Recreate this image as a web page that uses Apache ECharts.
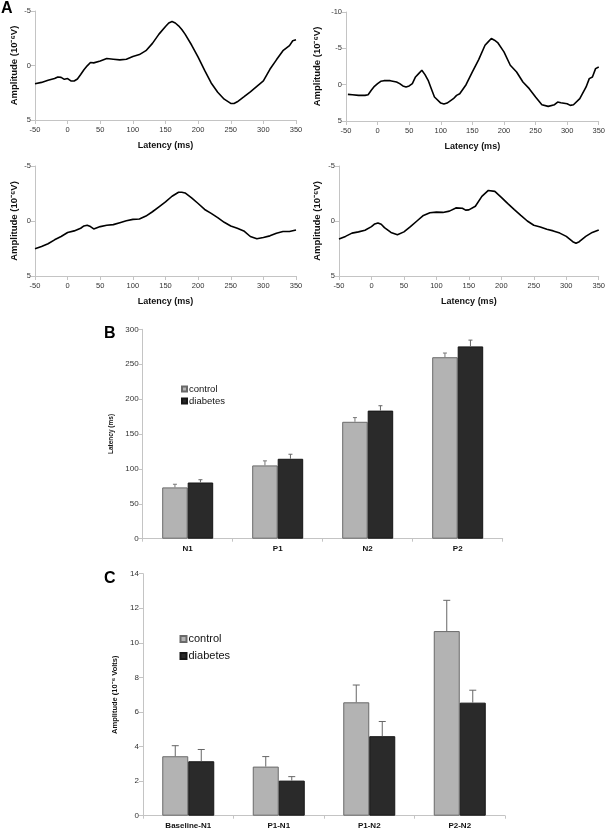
<!DOCTYPE html>
<html>
<head>
<meta charset="utf-8">
<script src="https://cdn.jsdelivr.net/npm/echarts@6/dist/echarts.min.js"></script>
<style>
html,body{margin:0;padding:0;background:#fff;}
#c{width:608px;height:831px;}
</style>
</head>
<body>
<div id="c"></div>
<script>
// ---- Panel A waveforms (latency ms, amplitude 10^-6 V) ----
const lat1 = [-50,-40,-30,-20,-15,-10,-5,0,5,10,15,20,25,30,35,40,50,60,70,80,90,100,110,120,130,140,150,155,160,165,170,175,180,190,200,210,220,230,240,250,255,260,270,280,290,300,310,320,330,340,345,350];
const amp1 = [1.67,1.55,1.36,1.2,1.06,1.09,1.27,1.2,1.42,1.42,1.24,0.82,0.39,0.03,-0.27,-0.24,-0.42,-0.64,-0.58,-0.52,-0.58,-0.82,-1.0,-1.36,-2.03,-2.88,-3.58,-3.9,-4.03,-3.9,-3.64,-3.3,-2.88,-1.88,-0.76,0.45,1.6,2.45,3.09,3.48,3.48,3.33,2.88,2.42,1.91,1.42,0.35,-0.52,-1.36,-1.82,-2.27,-2.36];

const lat2 = [-47,-40,-30,-20,-15,-10,-5,0,5,10,20,30,35,40,45,50,55,60,65,70,75,80,85,90,100,105,110,120,125,130,140,150,160,170,175,180,185,190,200,210,220,230,240,250,260,270,280,285,290,300,305,310,320,330,335,340,345,350];
const amp2 = [1.33,1.38,1.47,1.47,1.38,0.78,0.23,-0.14,-0.46,-0.55,-0.55,-0.37,-0.14,0.18,0.32,0.18,-0.14,-1.06,-1.52,-1.98,-1.38,-0.6,0.55,1.7,2.53,2.67,2.53,1.93,1.47,1.24,0,-1.75,-3.45,-5.43,-5.89,-6.35,-6.12,-5.8,-4.51,-2.67,-1.75,-0.37,0.55,1.7,2.76,2.99,2.76,2.39,2.49,2.62,2.85,2.76,1.93,0.32,-0.83,-1.06,-2.21,-2.44];

const lat3 = [-50,-40,-30,-20,-10,0,10,20,25,30,35,40,50,60,70,80,90,100,110,120,130,140,150,160,170,175,180,190,200,210,220,230,240,250,260,270,280,290,300,310,320,330,340,350];
const amp3 = [2.52,2.31,2.07,1.71,1.41,1.05,0.9,0.66,0.45,0.39,0.51,0.72,0.51,0.39,0.33,0.15,-0.03,-0.15,-0.18,-0.45,-0.84,-1.29,-1.74,-2.25,-2.61,-2.61,-2.55,-2.1,-1.59,-1.05,-0.69,-0.3,0.12,0.45,0.66,0.9,1.41,1.62,1.5,1.35,1.11,0.96,0.96,0.81];

const lat4 = [-50,-40,-30,-20,-10,0,5,10,15,20,30,40,50,60,70,80,90,100,110,120,130,140,145,150,160,170,180,190,200,210,220,230,240,250,260,270,280,290,300,310,315,320,330,340,350];
const amp4 = [1.64,1.4,1.1,0.99,0.84,0.51,0.27,0.18,0.3,0.6,1.04,1.25,0.99,0.51,0,-0.51,-0.75,-0.81,-0.78,-0.9,-1.19,-1.16,-0.99,-1.01,-1.34,-2.24,-2.78,-2.69,-2.15,-1.58,-1.04,-0.51,0,0.39,0.54,0.75,0.9,1.1,1.4,1.88,2.03,1.88,1.4,1.04,0.81];

// ---- Panel B latencies (ms) ----
const catsB = ['N1','P1','N2','P2'];
const ctrlLat = [73.5,105,167.5,260];
const ctrlLatErr = [4.5,6.5,6,6];
const diabLat = [80.5,114.5,183.5,275.5];
const diabLatErr = [4,6.5,7,9];

// ---- Panel C amplitudes (10^-6 V) ----
const catsC = ['Baseline-N1','P1-N1','P1-N2','P2-N2'];
const ctrlAmp = [3.44,2.84,6.56,10.68];
const ctrlAmpErr = [0.61,0.58,1.0,1.78];
const diabAmp = [3.15,2.03,4.6,6.54];
const diabAmpErr = [0.68,0.23,0.85,0.72];

const FF = '"Liberation Sans", Arial, sans-serif';
const axisGray = '#c4c4c4';

function pairs(xs, ys){ return xs.map((x,i)=>[x, ys[i]]); }

const grids = [
  {left:35, top:11, width:261, height:109},
  {left:346, top:12, width:254, height:109},
  {left:35, top:166, width:261, height:110},
  {left:339, top:166, width:260, height:110},
  {left:142.7, top:329.3, width:360, height:209.4},
  {left:143, top:573.7, width:362, height:242}
];

function waveX(gi){
  return {
    type:'value', gridIndex:gi, min:-50, max:350, interval:50,
    name:'Latency (ms)', nameLocation:'middle', nameGap:21,
    nameTextStyle:{fontFamily:FF, fontSize:9, fontWeight:'bold', color:'#111'},
    axisLine:{onZero:false, lineStyle:{color:axisGray, width:1}},
    axisTick:{show:true, length:4, lineStyle:{color:axisGray}},
    axisLabel:{fontFamily:FF, fontSize:7.5, color:'#333', margin:6},
    splitLine:{show:false}
  };
}
function waveY(gi, mn, gap){
  return {
    type:'value', gridIndex:gi, min:mn, max:5, interval:5, inverse:true,
    name:'Amplitude (10\u207B\u2076V)', nameLocation:'middle', nameRotate:90, nameGap:gap,
    nameTextStyle:{fontFamily:FF, fontSize:9.5, fontWeight:'bold', color:'#111'},
    axisLine:{show:true, onZero:false, lineStyle:{color:axisGray, width:1}},
    axisTick:{show:true, length:4, lineStyle:{color:axisGray}},
    axisLabel:{fontFamily:FF, fontSize:7.5, color:'#333', margin:4},
    splitLine:{show:false}
  };
}

function errSeries(name, xi, vals, errs, offset, cap, color){
  return {
    type:'custom', name:name+' err', xAxisIndex:xi, yAxisIndex:xi, z:5,
    data: vals.map((v,i)=>[i, v, errs[i]]),
    encode:{x:0, y:1},
    renderItem:function(params, api){
      const i = api.value(0), v = api.value(1), e = api.value(2);
      const b = api.coord([i, v]);
      const t = api.coord([i, v+e]);
      const x = b[0] + offset;
      return {type:'group', children:[
        {type:'line', shape:{x1:x, y1:b[1], x2:x, y2:t[1]}, style:{stroke:color, lineWidth:1}},
        {type:'line', shape:{x1:x-cap, y1:t[1], x2:x+cap, y2:t[1]}, style:{stroke:color, lineWidth:1}}
      ]};
    }
  };
}

function barX(gi, cats, fs){
  return {
    type:'category', gridIndex:gi, data:cats,
    axisLine:{lineStyle:{color:axisGray, width:1}},
    axisTick:{show:true, length:3, lineStyle:{color:axisGray}},
    axisLabel:{fontFamily:FF, fontSize:fs, fontWeight:'bold', color:'#111', margin:6}
  };
}
function barY(gi, mx, itv, name, nfs, gap){
  return {
    type:'value', gridIndex:gi, min:0, max:mx, interval:itv,
    name:name, nameLocation:'middle', nameRotate:90, nameGap:gap,
    nameTextStyle:{fontFamily:FF, fontSize:nfs, fontWeight:'bold', color:'#111'},
    axisLine:{show:true, lineStyle:{color:axisGray, width:1}},
    axisTick:{show:true, length:4, lineStyle:{color:axisGray}},
    axisLabel:{fontFamily:FF, fontSize:8, color:'#333', margin:4},
    splitLine:{show:false}
  };
}

const ctrlStyle = {color:'#b3b3b3', borderColor:'#6a6a6a', borderWidth:1};
const diabStyle = {color:'#2a2a2a', borderColor:'#161616', borderWidth:1};

const lineStyle = {color:'#000', width:1.6};

const option = {
  animation:false,
  backgroundColor:'#fff',
  grid: grids,
  xAxis: [waveX(0), waveX(1), waveX(2), waveX(3), barX(4, catsB, 8), barX(5, catsC, 8)],
  yAxis: [waveY(0,-5,16), waveY(1,-10,24), waveY(2,-5,16), waveY(3,-5,17),
          barY(4, 300, 50, 'Latency (ms)', 6.5, 24),
          barY(5, 14, 2, 'Amplitude (10\u207B\u2076 Volts)', 7.5, 23)],
  legend: [
    {data:['control','diabetes'], orient:'vertical', left:176, top:379, itemWidth:5, itemHeight:5, itemGap:2, icon:'rect',
     textStyle:{fontFamily:FF, fontSize:9.5, color:'#111', lineHeight:10, padding:[0,0,0,-3]}, selectedMode:false},
    {data:['control','diabetes'], orient:'vertical', left:174.5, top:628, itemWidth:6, itemHeight:6, itemGap:5, icon:'rect',
     textStyle:{fontFamily:FF, fontSize:11, color:'#111', lineHeight:12, padding:[0,0,0,-3]}, selectedMode:false}
  ],
  graphic: [
    {type:'text', left:1, top:1, style:{text:'A', font:'bold 16px '+FF, fill:'#000'}},
    {type:'text', left:104, top:326, style:{text:'B', font:'bold 16px '+FF, fill:'#000'}},
    {type:'text', left:104, top:571, style:{text:'C', font:'bold 16px '+FF, fill:'#000'}}
  ],
  series: [
    {type:'line', xAxisIndex:0, yAxisIndex:0, data:pairs(lat1, amp1), showSymbol:false, lineStyle:lineStyle},
    {type:'line', xAxisIndex:1, yAxisIndex:1, data:pairs(lat2, amp2), showSymbol:false, lineStyle:lineStyle},
    {type:'line', xAxisIndex:2, yAxisIndex:2, data:pairs(lat3, amp3), showSymbol:false, lineStyle:lineStyle},
    {type:'line', xAxisIndex:3, yAxisIndex:3, data:pairs(lat4, amp4), showSymbol:false, lineStyle:lineStyle},
    {type:'bar', name:'control', xAxisIndex:4, yAxisIndex:4, data:ctrlLat, barWidth:25.5, barGap:'0%', itemStyle:ctrlStyle},
    {type:'bar', name:'diabetes', xAxisIndex:4, yAxisIndex:4, data:diabLat, barWidth:25.5, barGap:'0%', itemStyle:diabStyle},
    errSeries('control', 4, ctrlLat, ctrlLatErr, -12.75, 2, '#777'),
    errSeries('diabetes', 4, diabLat, diabLatErr, 12.75, 2, '#666'),
    {type:'bar', name:'control', xAxisIndex:5, yAxisIndex:5, data:ctrlAmp, barWidth:26, barGap:'0%', itemStyle:ctrlStyle},
    {type:'bar', name:'diabetes', xAxisIndex:5, yAxisIndex:5, data:diabAmp, barWidth:26, barGap:'0%', itemStyle:diabStyle},
    errSeries('control', 5, ctrlAmp, ctrlAmpErr, -13, 3.5, '#666'),
    errSeries('diabetes', 5, diabAmp, diabAmpErr, 13, 3.5, '#666')
  ]
};

const chart = echarts.init(document.getElementById('c'), null, {renderer:'canvas'});
chart.setOption(option);
</script>
</body>
</html>
